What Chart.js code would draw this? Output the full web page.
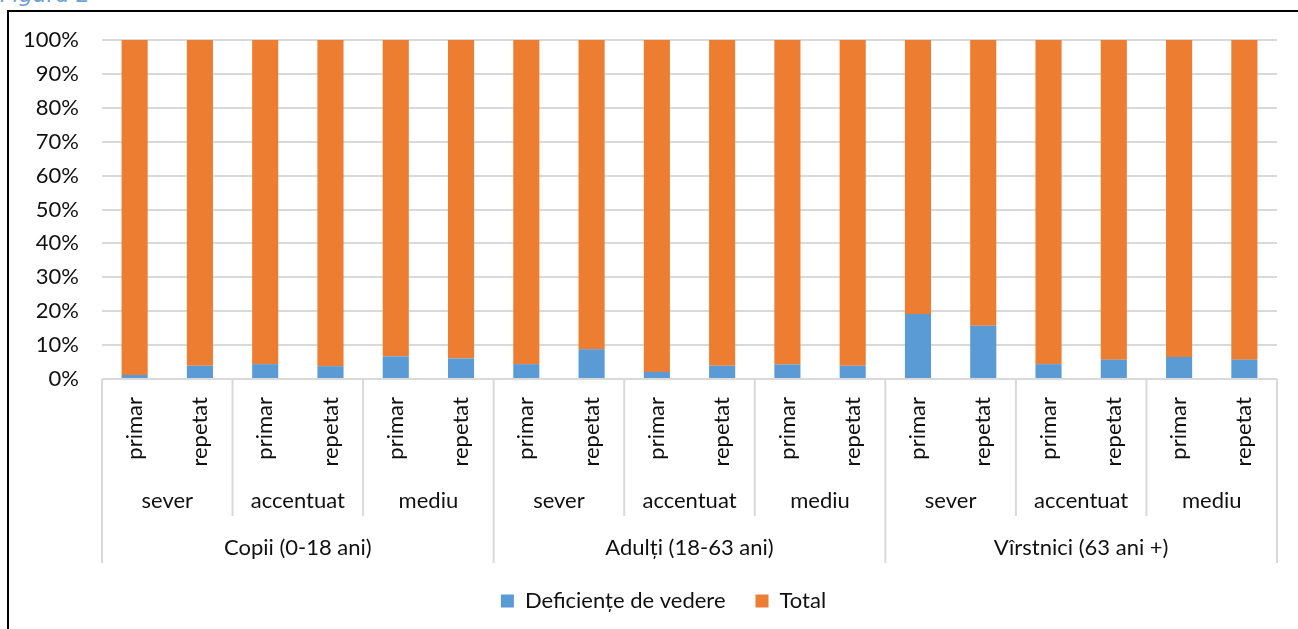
<!DOCTYPE html>
<html>
<head>
<meta charset="utf-8">
<script src="https://cdn.jsdelivr.net/npm/chart.js@4/dist/chart.umd.min.js"></script>
<style>
  html, body { margin: 0; padding: 0; background: #fff; overflow: hidden; }
  #caption {
    position: absolute; left: 0; top: -18px;
    font-family: "DejaVu Sans", sans-serif; font-style: italic; font-size: 22px;
    color: #6f9fd3; white-space: nowrap;
  }
  #frame {
    position: absolute; left: 7px; top: 10px; width: 1400px; height: 700px;
    border: 2px solid #000;
  }
  #wrap { position: absolute; left: 0; top: 0; width: 1298px; height: 629px; }
</style>
</head>
<body>
<div id="caption">Figura 2</div>
<div id="frame"></div>
<div id="wrap"><canvas id="chart"></canvas></div>
<script>
const ageGroups = ['Copii (0-18 ani)', 'Adulți (18-63 ani)', 'Vîrstnici (63 ani +)'];
const severityLevels = ['sever', 'accentuat', 'mediu'];
const evalTypes = ['primar', 'repetat'];

// share of each bar, in percent
const vedereShare = [1.2, 3.9, 4.4, 3.8, 6.7, 6.1, 4.4, 8.8, 2.1, 3.9, 4.3, 3.9, 19.2, 15.7, 4.4, 5.7, 6.5, 5.7];
const totalShare = [98.8, 96.1, 95.6, 96.2, 93.3, 93.9, 95.6, 91.2, 97.9, 96.1, 95.7, 96.1, 80.8, 84.3, 95.6, 94.3, 93.5, 94.3];

const yTicks = [0, 10, 20, 30, 40, 50, 60, 70, 80, 90, 100];

const labels = [];
ageGroups.forEach(() => severityLevels.forEach(() => evalTypes.forEach(t => labels.push(t))));

const FONT = 'Lato';
const SIZE = 22;
const TEXT = '#111';
const GRID = '#d9d9d9';

const groupLabels = {
  id: 'groupLabels',
  afterLayout(chart) {
    // legend sits a little right of the plot centre in the original
    chart.legend.left += 25;
    chart.legend.right += 25;
  },
  afterDraw(chart) {
    const xs = chart.scales.x, ys = chart.scales.y;
    const ctx = chart.ctx;
    const step = xs.getPixelForValue(1) - xs.getPixelForValue(0);
    const base = ys.getPixelForValue(0);
    const edge = i => xs.getPixelForValue(i) - step / 2;
    const per2 = evalTypes.length;
    const per3 = evalTypes.length * severityLevels.length;

    ctx.save();
    ctx.strokeStyle = GRID;
    ctx.lineWidth = 2;
    for (let i = 0; i <= labels.length; i += per2) {
      const long = i % per3 === 0;
      ctx.beginPath();
      ctx.moveTo(edge(i), base);
      ctx.lineTo(edge(i), base + (long ? 184 : 137));
      ctx.stroke();
    }

    ctx.fillStyle = TEXT;
    ctx.font = SIZE + 'px ' + FONT;
    ctx.textAlign = 'center';
    ctx.textBaseline = 'middle';
    let k = 0;
    ageGroups.forEach((g, gi) => {
      severityLevels.forEach(s => {
        const cx = (edge(k) + edge(k + per2)) / 2;
        ctx.fillText(s, cx, base + 122);
        k += per2;
      });
      const gx = (edge(gi * per3) + edge((gi + 1) * per3)) / 2;
      ctx.fillText(g, gx, base + 169);
    });
    ctx.restore();
  }
};

new Chart(document.getElementById('chart'), {
  type: 'bar',
  data: {
    labels: labels,
    datasets: [
      {
        label: 'Deficiențe de vedere',
        data: vedereShare,
        backgroundColor: '#5b9bd5',
        barPercentage: 0.4,
        categoryPercentage: 1
      },
      {
        label: 'Total',
        data: totalShare,
        backgroundColor: '#ed7d31',
        barPercentage: 0.4,
        categoryPercentage: 1
      }
    ]
  },
  options: {
    responsive: true,
    maintainAspectRatio: false,
    animation: false,
    layout: { padding: { left: 0, right: 21, top: 40, bottom: 7 } },
    scales: {
      x: {
        stacked: true,
        grid: { display: false },
        border: { display: false },
        ticks: {
          minRotation: 90,
          maxRotation: 90,
          padding: 10,
          color: TEXT,
          font: { family: FONT, size: SIZE }
        },
        afterFit(scale) { scale.height = 181; }
      },
      y: {
        stacked: true,
        min: 0,
        max: 100,
        afterBuildTicks(scale) { scale.ticks = yTicks.map(v => ({ value: v })); },
        grid: { color: GRID, lineWidth: 2, drawTicks: false },
        border: { display: false },
        ticks: {
          padding: 23,
          color: TEXT,
          font: { family: FONT, size: SIZE },
          callback: v => v + '%'
        },
        afterFit(scale) { scale.width = 102; }
      }
    },
    plugins: {
      legend: {
        position: 'bottom',
        labels: {
          boxWidth: 13,
          boxHeight: 13,
          padding: 30,
          color: TEXT,
          font: { family: FONT, size: SIZE }
        }
      },
      tooltip: { enabled: false }
    }
  },
  plugins: [groupLabels]
});
</script>
</body>
</html>
